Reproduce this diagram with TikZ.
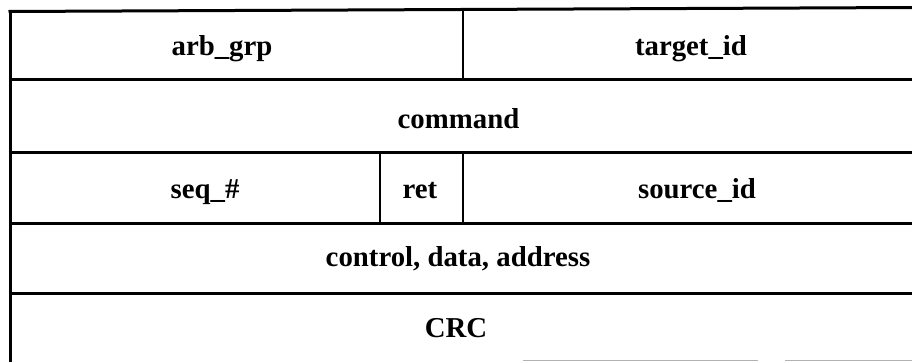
\documentclass[tikz,border=0pt]{standalone}
\usepackage{fontspec}
\setmainfont{Liberation Serif}
\begin{document}
\begin{tikzpicture}[x=1pt,y=-1pt,
  rule/.style={line width=3pt,black},
  vrule/.style={line width=2.2pt,black},
  faint/.style={line width=1pt,black!30},
  cell/.style={font=\fontsize{28.8}{33}\selectfont\bfseries,inner sep=0pt,anchor=base}]
\useasboundingbox (0,0) rectangle (912,362);
% horizontal rules
\draw[rule] (8.5,11.5) -- (912,7.5);
\draw[rule] (8.5,79) -- (912,79);
\draw[rule] (8.5,152) -- (912,152);
\draw[rule] (8.5,223) -- (912,223);
\draw[rule] (8.5,293) -- (912,293);
% left border
\draw[rule] (10,10) -- (10,362);
% vertical dividers
\draw[vrule] (463,10) -- (463,79);
\draw[vrule] (380,152) -- (380,223);
\draw[vrule] (463,152) -- (463,223);
% faint scan remnant of bottom rule
\draw[faint] (523,360.5) -- (758,360.5);
\draw[faint] (785,360.5) -- (912,360.5);
% labels
\node[cell] (arb) at (222,55) {arb\_grp};
\node[cell] (tgt) at (691,55) {target\_id};
\node[cell] (cmd) at (458.5,128) {command};
\node[cell] (seq) at (205,198) {seq\_\#};
\node[cell] (ret) at (420,198) {ret};
\node[cell] (src) at (697,198) {source\_id};
\node[cell] (ctl) at (458,266) {control, data, address};
\node[cell] (crc) at (456,337) {CRC};
\end{tikzpicture}
\end{document}
